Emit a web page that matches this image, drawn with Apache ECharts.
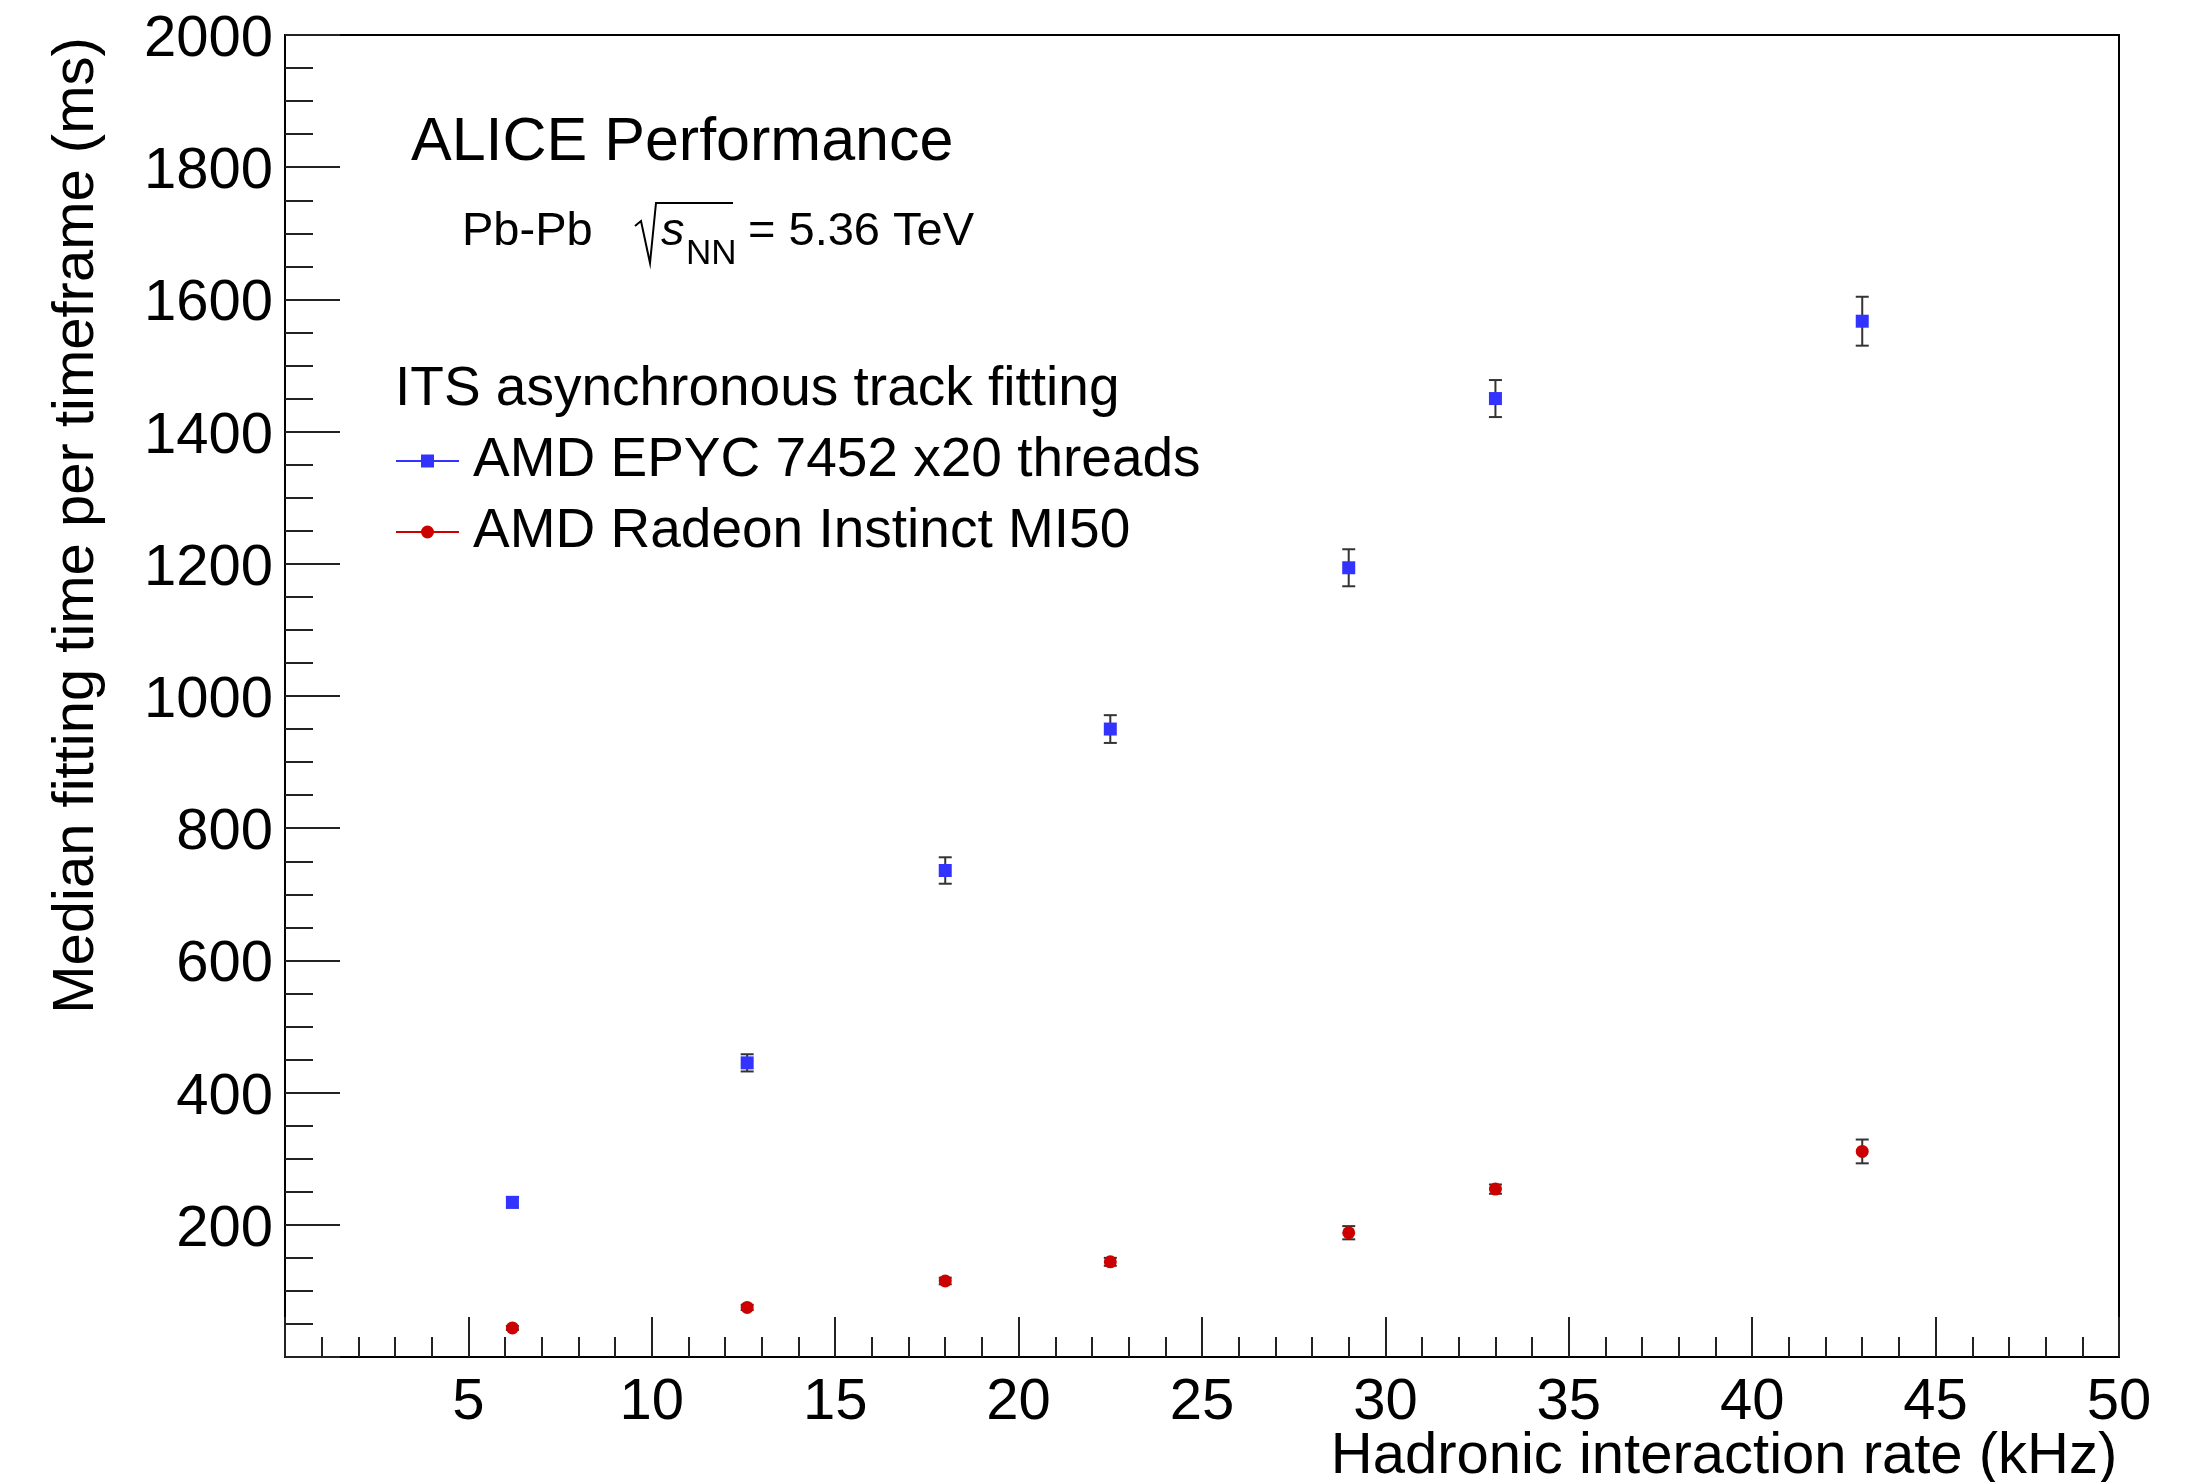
<!DOCTYPE html>
<html>
<head>
<meta charset="utf-8">
<script src="https://cdn.jsdelivr.net/npm/echarts@6/dist/echarts.min.js"></script>
<style>
  html, body { margin: 0; padding: 0; background: #fff; }
  #chart { width: 2203px; height: 1482px; }
</style>
</head>
<body>
<div id="chart"></div>
<script>
// interaction rate (kHz)
const rates = [6.2, 12.6, 18, 22.5, 29, 33, 43]
// CPU: AMD EPYC 7452 x20 threads
const cpuTime = [234, 445, 736, 950, 1194, 1450, 1567]
const cpuErr = [8, 13, 20, 21, 28, 28, 37]
// GPU: AMD Radeon Instinct MI50
const gpuTime = [44, 75, 115, 144, 188, 254, 311]
const gpuErr = [3, 4, 5, 6, 10, 7, 18]

const xTicks = [0, 5, 10, 15, 20, 25, 30, 35, 40, 45, 50]
const yTicks = [0, 200, 400, 600, 800, 1000, 1200, 1400, 1600, 1800, 2000]

const font = 'Liberation Sans, Arial, Helvetica, sans-serif'
const blue = '#3333ff'
const red = '#cc0000'

function pts(ys) {
  return rates.map((x, i) => [x, ys[i]])
}
function errs(ys, es) {
  return rates.map((x, i) => [x, ys[i] - es[i], ys[i] + es[i]])
}

// error bar with caps
function errorBar(params, api) {
  const lo = api.coord([api.value(0), api.value(1)])
  const hi = api.coord([api.value(0), api.value(2)])
  const w = 6.5
  const style = { stroke: '#333', lineWidth: 2 }
  return {
    type: 'group',
    children: [
      { type: 'line', shape: { x1: lo[0], y1: lo[1], x2: hi[0], y2: hi[1] }, style: style },
      { type: 'line', shape: { x1: lo[0] - w, y1: lo[1], x2: lo[0] + w, y2: lo[1] }, style: style },
      { type: 'line', shape: { x1: hi[0] - w, y1: hi[1], x2: hi[0] + w, y2: hi[1] }, style: style }
    ]
  }
}

const chart = echarts.init(document.getElementById('chart'))
chart.setOption({
  animation: false,
  backgroundColor: '#fff',
  title: {
    text: 'ALICE Performance',
    left: 411,
    top: 113,
    padding: 0,
    textStyle: { fontFamily: font, fontSize: 61, fontWeight: 'normal', color: '#000' }
  },
  grid: {
    left: 285, right: 84, top: 35, bottom: 125,
    outerBoundsMode: 'none',
    containLabel: false,
    show: true, borderColor: '#000', borderWidth: 2
  },
  legend: {
    orient: 'vertical',
    left: 396,
    top: 431,
    padding: 0,
    itemGap: 11,
    itemWidth: 63,
    itemHeight: 13,
    selectedMode: false,
    textStyle: { fontFamily: font, fontSize: 55, color: '#000', lineHeight: 60, padding: [0, 0, 0, 9] },
    data: [
      { name: 'AMD EPYC 7452 x20 threads', icon: 'path://M0,5.5 L63,5.5 L63,7.5 L0,7.5 Z M25,0 L38,0 L38,13 L25,13 Z' },
      { name: 'AMD Radeon Instinct MI50', icon: 'path://M0,5.5 L63,5.5 L63,7.5 L0,7.5 Z M25,6.5 A6.5,6.5 0 1,1 38,6.5 A6.5,6.5 0 1,1 25,6.5 Z' }
    ]
  },
  graphic: [
    { type: 'text', x: 395, y: 390, style: { text: 'ITS asynchronous track fitting', font: '55px ' + font, fill: '#000', verticalAlign: 'middle' } },
    { type: 'text', x: 462, y: 232, style: { text: 'Pb-Pb', font: '47px ' + font, fill: '#000', verticalAlign: 'middle' } },
    { type: 'polyline', shape: { points: [[635, 226], [641, 221], [650, 263], [656, 203], [733, 203]] }, style: { stroke: '#000', lineWidth: 2, fill: null } },
    { type: 'text', x: 661, y: 232, style: { text: 's', font: 'italic 47px ' + font, fill: '#000', verticalAlign: 'middle' } },
    { type: 'text', x: 686, y: 254, style: { text: 'NN', font: '35px ' + font, fill: '#000', verticalAlign: 'middle' } },
    { type: 'text', x: 748, y: 232, style: { text: '= 5.36 TeV', font: '47px ' + font, fill: '#000', verticalAlign: 'middle' } }
  ],
  xAxis: {
    type: 'value',
    min: xTicks[0],
    max: xTicks[xTicks.length - 1],
    interval: 5,
    name: 'Hadronic interaction rate (kHz)',
    nameLocation: 'middle',
    nameMoveOverlap: false,
    nameGap: 71,
    nameTextStyle: { fontFamily: font, fontSize: 58, color: '#000', align: 'center', verticalAlign: 'top', padding: [0, 0, 0, 1044] },
    axisLine: { lineStyle: { color: '#000', width: 2 } },
    axisTick: { inside: true, length: 40, lineStyle: { color: '#222', width: 2 } },
    minorTick: { show: true, splitNumber: 5, length: 20, lineStyle: { color: '#222', width: 2 } },
    splitLine: { show: false },
    axisLabel: {
      margin: 17,
      fontFamily: font, fontSize: 58, color: '#000',
      formatter: v => (v === 0 ? '' : String(v))
    }
  },
  yAxis: {
    type: 'value',
    min: yTicks[0],
    max: yTicks[yTicks.length - 1],
    interval: 200,
    name: 'Median fitting time per timeframe (ms)',
    nameLocation: 'middle',
    nameMoveOverlap: false,
    nameGap: 179,
    nameRotate: 90,
    nameTextStyle: { fontFamily: font, fontSize: 58, color: '#000', align: 'center', verticalAlign: 'bottom', padding: [0, 0, 0, 341] },
    axisLine: { lineStyle: { color: '#000', width: 2 } },
    axisTick: { inside: true, length: 55, lineStyle: { color: '#222', width: 2 } },
    minorTick: { show: true, splitNumber: 4, length: 28, lineStyle: { color: '#222', width: 2 } },
    splitLine: { show: false },
    axisLabel: {
      margin: 12,
      verticalAlign: 'top',
      lineHeight: 10,
      fontFamily: font, fontSize: 58, color: '#000',
      formatter: v => (v === 0 ? '' : String(v))
    }
  },
  series: [
    {
      type: 'custom',
      name: 'cpu errors',
      renderItem: errorBar,
      data: errs(cpuTime, cpuErr),
      z: 1,
      silent: true
    },
    {
      type: 'custom',
      name: 'gpu errors',
      renderItem: errorBar,
      data: errs(gpuTime, gpuErr),
      z: 1,
      silent: true
    },
    {
      type: 'scatter',
      name: 'AMD EPYC 7452 x20 threads',
      symbol: 'rect',
      symbolSize: 13,
      itemStyle: { color: blue, opacity: 1 },
      data: pts(cpuTime),
      z: 3
    },
    {
      type: 'scatter',
      name: 'AMD Radeon Instinct MI50',
      symbol: 'circle',
      symbolSize: 13,
      itemStyle: { color: red, opacity: 1 },
      data: pts(gpuTime),
      z: 3
    }
  ]
})
</script>
</body>
</html>
